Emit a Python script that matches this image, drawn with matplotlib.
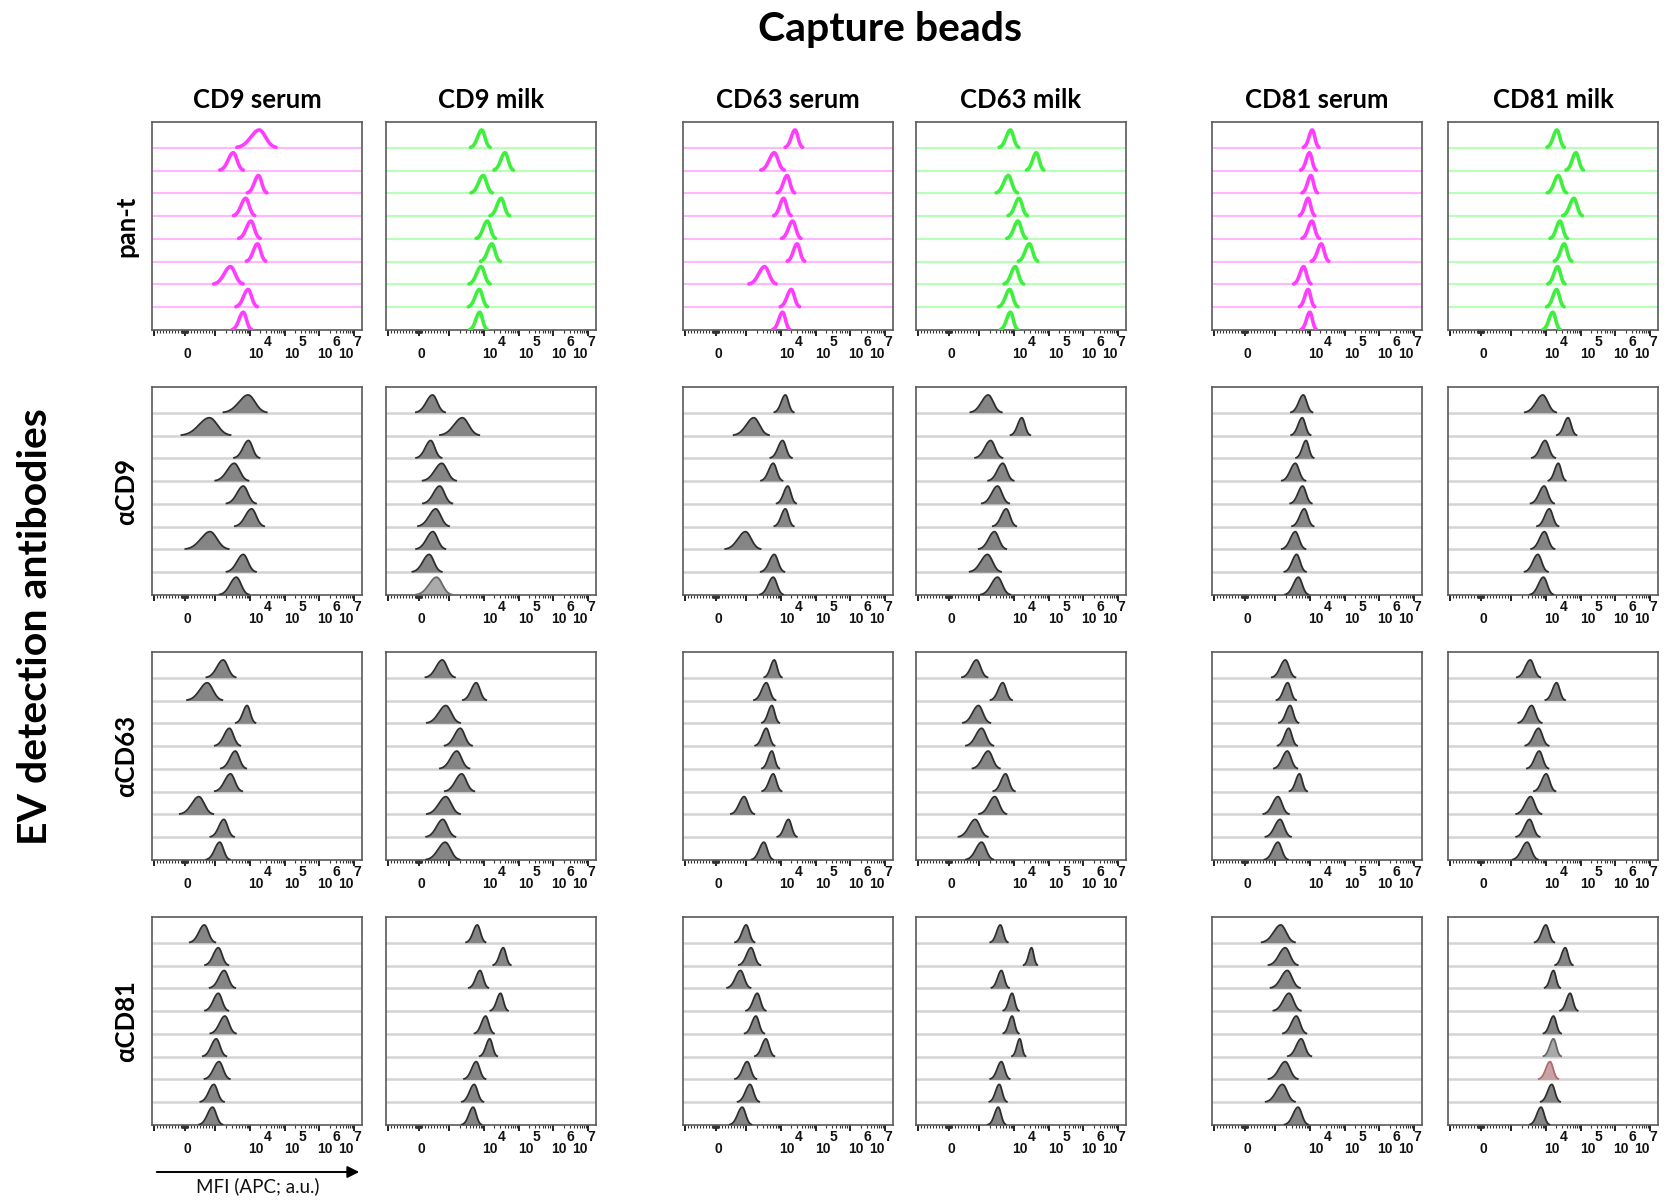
"""Flow cytometry ridgeline grid: capture beads x EV detection antibodies."""

import numpy as np
import matplotlib

matplotlib.use("Agg")
import matplotlib.pyplot as plt  # noqa: E402
from matplotlib.scale import SymmetricalLogTransform  # noqa: E402
from matplotlib.ticker import FixedLocator, NullFormatter  # noqa: E402

W, H = 1669, 1200

COLUMNS = ["CD9 serum", "CD9 milk", "CD63 serum", "CD63 milk", "CD81 serum", "CD81 milk"]
ROWS = ["pan-t", "αCD9", "αCD63", "αCD81"]

# peak position of each of the 9 stacked histograms (top -> bottom), log10 MFI
PAN_T = [
    [4.27, 3.52, 4.25, 3.88, 4.03, 4.22, 3.44, 3.95, 3.81],
    [3.94, 4.61, 3.98, 4.50, 4.10, 4.23, 3.92, 3.87, 3.88],
    [4.41, 3.81, 4.18, 4.08, 4.34, 4.47, 3.53, 4.30, 4.05],
    [3.90, 4.65, 3.84, 4.15, 4.12, 4.45, 4.04, 3.88, 3.90],
    [4.07, 3.99, 4.03, 3.95, 4.06, 4.33, 3.82, 3.95, 4.00],
    [4.32, 4.87, 4.36, 4.81, 4.41, 4.53, 4.34, 4.31, 4.20],
]
ACD9 = [
    [3.95, 2.91, 3.96, 3.55, 3.81, 4.05, 2.92, 3.81, 3.61],
    [2.66, 3.38, 2.60, 2.88, 2.84, 2.75, 2.67, 2.54, 2.77],
    [4.13, 3.22, 4.05, 3.78, 4.20, 4.13, 2.99, 3.81, 3.78],
    [3.26, 4.23, 3.33, 3.68, 3.53, 3.78, 3.44, 3.24, 3.53],
    [3.81, 3.78, 3.89, 3.58, 3.79, 3.84, 3.58, 3.62, 3.67],
    [3.91, 4.64, 3.98, 4.36, 3.95, 4.10, 3.96, 3.77, 3.93],
]
ACD63 = [
    [3.23, 2.87, 3.92, 3.41, 3.58, 3.44, 2.67, 3.25, 3.13],
    [2.89, 3.78, 2.95, 3.32, 3.22, 3.36, 2.95, 2.90, 2.94],
    [3.81, 3.58, 3.74, 3.58, 3.74, 3.78, 2.97, 4.22, 3.51],
    [2.96, 3.68, 2.99, 3.07, 3.26, 3.76, 3.45, 2.94, 3.07],
    [3.29, 3.36, 3.43, 3.39, 3.35, 3.70, 3.08, 3.14, 3.08],
    [3.55, 4.31, 3.59, 3.79, 3.81, 4.01, 3.56, 3.53, 3.46],
]
ACD81 = [
    [2.81, 3.09, 3.26, 3.09, 3.28, 3.03, 3.11, 2.98, 2.96],
    [3.81, 4.56, 3.89, 4.48, 4.05, 4.17, 3.78, 3.72, 3.69],
    [3.00, 3.14, 2.91, 3.32, 3.28, 3.57, 3.03, 3.11, 2.94],
    [3.61, 4.51, 3.64, 3.95, 3.95, 4.17, 3.64, 3.58, 3.55],
    [3.16, 3.29, 3.35, 3.40, 3.61, 3.75, 3.29, 3.21, 3.66],
    [4.00, 4.56, 4.22, 4.70, 4.22, 4.22, 4.12, 4.17, 3.86],
]

# peak spread (in display decades) of each histogram
PAN_T_SD = [
    [0.20, 0.12, 0.10, 0.11, 0.11, 0.10, 0.15, 0.11, 0.10],
    [0.10, 0.10, 0.11, 0.10, 0.10, 0.10, 0.11, 0.10, 0.09],
    [0.09, 0.12, 0.09, 0.09, 0.10, 0.09, 0.14, 0.10, 0.09],
    [0.10, 0.09, 0.11, 0.10, 0.10, 0.10, 0.10, 0.10, 0.09],
    [0.08, 0.08, 0.08, 0.08, 0.09, 0.09, 0.09, 0.08, 0.08],
    [0.09, 0.09, 0.10, 0.10, 0.09, 0.09, 0.09, 0.09, 0.09],
]
ACD9_SD = [
    [0.22, 0.25, 0.13, 0.17, 0.15, 0.15, 0.22, 0.15, 0.15],
    [0.15, 0.20, 0.13, 0.17, 0.15, 0.16, 0.15, 0.15, 0.18],
    [0.10, 0.18, 0.11, 0.11, 0.10, 0.10, 0.18, 0.12, 0.12],
    [0.16, 0.10, 0.14, 0.13, 0.14, 0.12, 0.14, 0.16, 0.15],
    [0.11, 0.10, 0.09, 0.12, 0.11, 0.11, 0.12, 0.11, 0.12],
    [0.16, 0.10, 0.12, 0.09, 0.12, 0.11, 0.12, 0.12, 0.12],
]
ACD63_SD = [
    [0.15, 0.18, 0.10, 0.13, 0.13, 0.14, 0.17, 0.12, 0.12],
    [0.15, 0.12, 0.17, 0.14, 0.15, 0.15, 0.17, 0.15, 0.17],
    [0.09, 0.11, 0.09, 0.10, 0.09, 0.10, 0.12, 0.10, 0.11],
    [0.13, 0.11, 0.14, 0.14, 0.14, 0.11, 0.14, 0.15, 0.14],
    [0.12, 0.10, 0.10, 0.10, 0.12, 0.09, 0.13, 0.13, 0.12],
    [0.12, 0.10, 0.12, 0.12, 0.11, 0.11, 0.13, 0.12, 0.13],
]
ACD81_SD = [
    [0.13, 0.12, 0.13, 0.12, 0.13, 0.12, 0.13, 0.12, 0.12],
    [0.10, 0.09, 0.10, 0.09, 0.10, 0.09, 0.11, 0.11, 0.10],
    [0.10, 0.11, 0.12, 0.10, 0.10, 0.10, 0.11, 0.11, 0.11],
    [0.09, 0.07, 0.09, 0.08, 0.08, 0.07, 0.10, 0.09, 0.09],
    [0.17, 0.15, 0.15, 0.14, 0.12, 0.12, 0.15, 0.15, 0.12],
    [0.10, 0.09, 0.08, 0.09, 0.09, 0.09, 0.10, 0.10, 0.10],
]

PEAKS = [PAN_T, ACD9, ACD63, ACD81]
SPREADS = [PAN_T_SD, ACD9_SD, ACD63_SD, ACD81_SD]

# a few histograms exported with a different fill: (row, col, trace) -> (fill, edge)
FILL_OVERRIDES = {
    (1, 1, 8): ("#ababab", "#6a6a6a"),
    (3, 5, 5): ("#a9a9a9", "#666666"),
    (3, 5, 6): ("#c9a3a3", "#b06a6a"),
}

PINK, PINK_BASE = "#ff3cff", "#ffb8ff"
GREEN, GREEN_BASE = "#3cf03c", "#b8ffb8"
GRAY_FILL, GRAY_EDGE, GRAY_BASE = "#858585", "#2e2e2e", "#d4d4d4"

# layout in reference pixels
COL_X = [152, 386, 683, 916, 1212, 1448]
ROW_Y = [122, 387, 652, 917]
PW, PH = 210, 208

LINTHRESH, LINSCALE = 1000, 0.797
XMIN, XMAX = -1130, 1.72e7
HEIGHT = 0.78
YTOP = 9.13

MINOR = (
    [s * v for v in range(10, 100, 10) for s in (-1, 1)]
    + [s * v for v in range(100, 1000, 100) for s in (-1, 1)]
    + [m * 10 ** k for k in range(3, 7) for m in range(2, 10)]
)
MAJOR = [-1000, 0, 1000, 1e4, 1e5, 1e6, 1e7]

sym = SymmetricalLogTransform(10, LINTHRESH, LINSCALE)
inv = sym.inverted()
t_lo, t_hi = sym.transform(np.array([XMIN, XMAX]))
grid_t = np.linspace(t_lo, t_hi, 900)
grid_x = inv.transform(grid_t)

plt.rcParams["font.family"] = ["Liberation Sans", "DejaVu Sans"]
fig = plt.figure(figsize=(W / 100, H / 100), dpi=100)


def curve(logv, sd):
    mu = sym.transform(np.array([10.0 ** logv]))[0]
    s = np.where(grid_t < mu, sd * 1.2, sd * 0.9) * LINTHRESH
    return HEIGHT * np.exp(-0.5 * ((grid_t - mu) / s) ** 2)


for r in range(4):
    for c in range(6):
        ax = fig.add_axes([COL_X[c] / W, 1 - (ROW_Y[r] + PH) / H, PW / W, PH / H])
        ax.set_xscale("symlog", linthresh=LINTHRESH, linscale=LINSCALE)
        ax.set_xlim(XMIN, XMAX)
        ax.set_ylim(0, YTOP)
        ax.set_yticks([])
        ax.xaxis.set_major_locator(FixedLocator(MAJOR))
        ax.xaxis.set_minor_locator(FixedLocator(MINOR))
        ax.xaxis.set_major_formatter(NullFormatter())
        ax.xaxis.set_minor_formatter(NullFormatter())
        ax.tick_params(which="major", length=4.5, width=1.4, color="#222222")
        ax.tick_params(which="minor", length=2.3, width=0.8, color="#333333")
        for sp in ax.spines.values():
            sp.set_color("#5a5a5a")
            sp.set_linewidth(1.2)

        for i in range(9):
            base = 8 - i
            y = base + curve(PEAKS[r][c][i], SPREADS[r][c][i])
            on = y - base > 0.02
            if r == 0:
                line, light = (PINK, PINK_BASE) if c % 2 == 0 else (GREEN, GREEN_BASE)
                if base > 0:
                    ax.axhline(base, color=light, lw=1.5, zorder=1)
                ax.plot(grid_x[on], y[on], color=line, lw=2.6, zorder=3,
                        solid_capstyle="round")
            else:
                fill, edge = FILL_OVERRIDES.get((r, c, i), (GRAY_FILL, GRAY_EDGE))
                if base > 0:
                    ax.axhline(base, color=GRAY_BASE, lw=1.8, zorder=1)
                ax.fill_between(grid_x, base, y, where=on, color=fill, lw=0, zorder=2)
                ax.plot(grid_x[on], y[on], color=edge, lw=1.3, zorder=3)

        # FlowJo style axis labels
        lab = dict(transform=ax.transAxes, fontsize=10, fontweight="bold",
                   ha="center", va="center", color="#111111")
        ax.text(0.170, -0.113, "0", **lab)
        for xb, xe, e in [(0.493, 0.552, "4"), (0.667, 0.718, "5"),
                          (0.825, 0.880, "6"), (0.921, 0.979, "7")]:
            ax.text(xb, -0.113, "10", **lab)
            ax.text(xe, -0.058, e, **lab)

head = dict(family=["Lato", "DejaVu Sans"], fontweight="bold", color="black")
fig.text(890 / W, 1 - 29 / H, "Capture beads", fontsize=29.5, ha="center", va="center", **head)
for c, name in enumerate(COLUMNS):
    fig.text((COL_X[c] + PW / 2) / W, 1 - 100 / H, name, fontsize=18.5,
             ha="center", va="center", **head)
for r, name in enumerate(ROWS):
    fig.text(126 / W, 1 - (ROW_Y[r] + PH / 2) / H, name, fontsize=18.5, rotation=90,
             ha="center", va="center", **head)
fig.text(36 / W, 1 - 627 / H, "EV detection antibodies", fontsize=29.5, rotation=90,
         ha="center", va="center", **head)

fig.add_artist(matplotlib.patches.FancyArrowPatch(
    (154 / W, 1 - 1172 / H), (362 / W, 1 - 1172 / H), transform=fig.transFigure,
    arrowstyle="-|>,head_length=7,head_width=3.5", color="black", lw=1.4))
fig.text(258 / W, 1 - 1186 / H, "MFI (APC; a.u.)", fontsize=13.5, ha="center",
         va="center", family=["Lato", "DejaVu Sans"], color="#111111")

fig.savefig("out.png", dpi=100)
